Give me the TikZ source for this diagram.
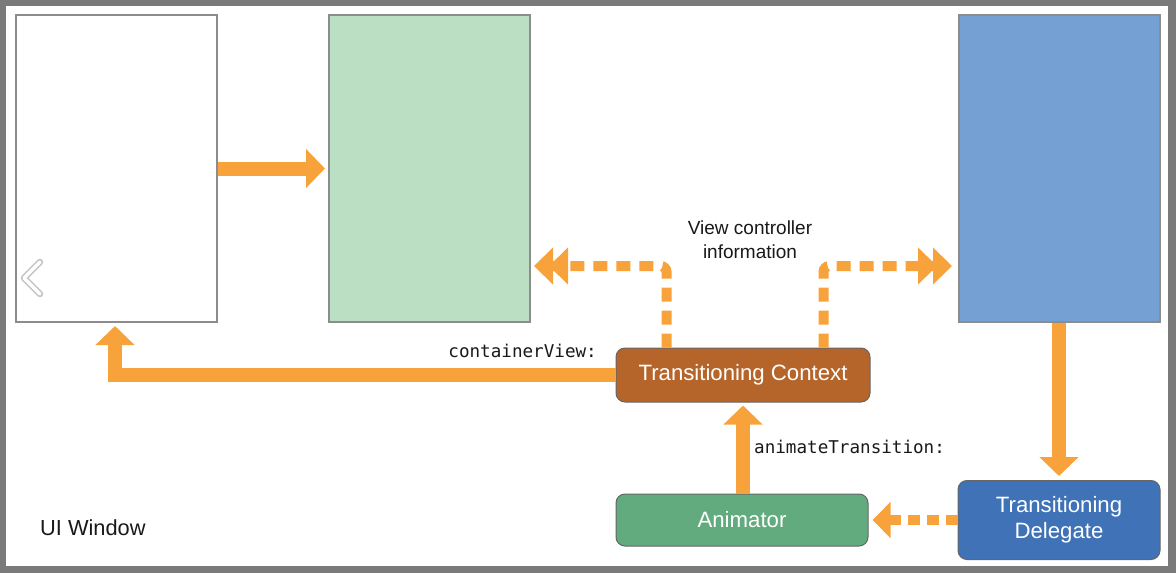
\documentclass[tikz,border=0pt]{standalone}
\usepackage{fontspec}
\setmainfont{Liberation Sans}
\setmonofont{DejaVu Sans Mono}
\usetikzlibrary{arrows.meta,calc}
\definecolor{orng}{HTML}{F7A23B}
\definecolor{framegray}{HTML}{7A7A7A}
\definecolor{boxgray}{HTML}{8C8C8C}
\definecolor{greenfill}{HTML}{BBDFC2}
\definecolor{bluefill}{HTML}{74A0D4}
\definecolor{ctxfill}{HTML}{B5652A}
\definecolor{animfill}{HTML}{62AB7E}
\definecolor{delfill}{HTML}{3F72B6}
\tikzset{
  screen/.style={draw=boxgray, line width=2pt, minimum width=201pt, minimum height=307pt, inner sep=0pt},
  rolebox/.style={draw=gray!80!black, line width=1pt, rounded corners=9pt, text=white, inner sep=0pt,
     font=\fontsize{22.2}{26}\selectfont, align=center},
  solidarrow/.style={draw=orng, line width=14pt, -{Triangle[length=19pt,width=38pt]}},
  dasharrow/.style={draw=orng, line width=10pt, dash pattern=on 14pt off 9pt, rounded corners=6pt,
     -{Triangle[length=19pt,width=36pt,sep=-4pt]Triangle[length=19pt,width=36pt]}},
  dashsingle/.style={draw=orng, line width=10pt, dash pattern=on 12pt off 7pt,
     -{Triangle[length=18pt,width=35pt]}},
  codelabel/.style={font=\fontsize{17.6}{20}\ttfamily, text=black!90, inner sep=0pt},
}
\begin{document}
\begin{tikzpicture}[x=1pt,y=-1pt]
\useasboundingbox (0,0) rectangle (1176,573);
\fill[framegray] (0,0) rectangle (1176,573);
\fill[white] (6,6) rectangle (1168,566);

% screens
\node[screen, fill=white] (phoneA) at (116.5,168.5) {};
\node[screen, fill=greenfill] (phoneB) at (429.5,168.5) {};
\node[screen, fill=bluefill] (phoneC) at (1059,168.5) {};

% back chevron
\draw[gray!45, line width=6.5pt, line cap=round, line join=round] (40,262) -- (24,278) -- (40,294);
\draw[white, line width=3.5pt, line cap=round, line join=round] (40,262) -- (24,278) -- (40,294);

% role boxes
\node[rolebox, fill=ctxfill, minimum width=254pt, minimum height=54pt] (ctx) at (743,375) {Transitioning Context};
\node[rolebox, fill=animfill, minimum width=252pt, minimum height=52pt] (anim) at (742,520) {Animator};
\node[rolebox, fill=delfill, minimum width=202pt, minimum height=79pt] (deleg) at (1059,520) {Transitioning\\Delegate};

% coordinates for free arrow ends
\coordinate (cvtip) at (115,326);
\coordinate (vctipL) at (534,266);
\coordinate (vctipR) at (952,266);

% solid arrows
\draw[solidarrow] (phoneA.east) -- ([xshift=-3pt]phoneB.west);
\draw[solidarrow] (ctx.west) -| (cvtip);
\draw[solidarrow] ([xshift=1pt]anim.north) -- ([yshift=-3pt]ctx.south);
\draw[solidarrow] (phoneC.south) -- ([yshift=4pt]deleg.north);

% dashed arrows
\draw[dasharrow] ([xshift=51pt]ctx.north west) |- (vctipL);
\draw[dasharrow] ([xshift=-47pt]ctx.north east) |- (vctipR);
\draw[dashsingle] (deleg.west) -- ([xshift=4pt]anim.east);

% labels
\node[font=\fontsize{19}{24}\selectfont, align=center, text=black!90] (vcinfo) at (750,240) {View controller\\information};
\node[codelabel, anchor=base east] (cvlabel) at (597,357) {containerView:};
\node[codelabel, anchor=base west] (atlabel) at (754,453) {animateTransition:};
\node[font=\fontsize{21.8}{25}\selectfont, anchor=base west, inner sep=0pt, text=black!90] (uiwin) at (40,535) {UI Window};
\end{tikzpicture}
\end{document}
